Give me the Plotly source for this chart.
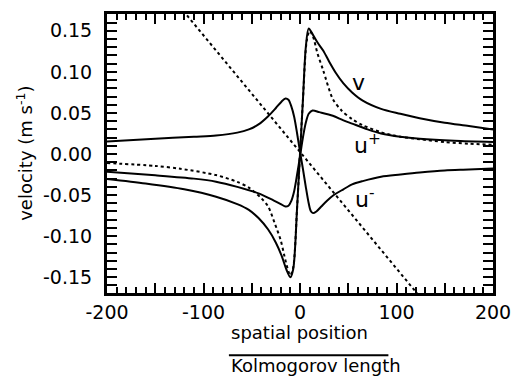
import plotly.graph_objects as go

# ---------------- data ----------------
# v, solid
x_v = [-200, -160, -120, -87, -65, -53, -43, -33, -25, -19, -14, -10, -7, -3, 0,
       3, 6, 9, 13, 18, 24, 30, 37, 45, 54, 65, 84, 104, 124, 150, 175, 200]
v_solid = [-0.0305, -0.036, -0.043, -0.052, -0.061, -0.068, -0.078, -0.092, -0.108, -0.124,
           -0.141, -0.150, -0.140, -0.065, 0.0, 0.065, 0.130, 0.153, 0.146, 0.136, 0.126,
           0.113, 0.099, 0.086, 0.075, 0.065, 0.055, 0.049, 0.0435, 0.038, 0.034, 0.0297]

# v, dashed model curve
x_vd = [-200, -150, -124, -87, -65, -53, -40, -33, -26, -20, -16, -12, -10, -7, -3, 0,
        3, 7, 10, 13.5, 18, 24, 34, 43, 54, 65, 84, 104, 124, 150, 175, 200]
v_dash = [-0.011, -0.0145, -0.018, -0.0257, -0.034, -0.041, -0.054, -0.064, -0.085, -0.105,
          -0.125, -0.143, -0.148, -0.138, -0.065, 0.0, 0.065, 0.138, 0.150, 0.143, 0.123,
          0.102, 0.067, 0.053, 0.0425, 0.035, 0.0265, 0.021, 0.018, 0.0145, 0.0125, 0.0112]

# u- (positive peak on the left, negative trough on the right)
x_um = [-200, -150, -110, -87, -65, -53, -43, -33, -25, -19, -15, -12, -9, -6, -3, 0,
        3, 6, 9, 11, 13.5, 17, 22, 28, 35, 45, 54, 65, 84, 104, 124, 150, 175, 200]
u_minus = [0.0153, 0.0185, 0.021, 0.0225, 0.026, 0.030, 0.036, 0.046, 0.056, 0.064, 0.0675,
           0.066, 0.058, 0.045, 0.025, 0.003, -0.018, -0.040, -0.060, -0.069, -0.072, -0.070,
           -0.064, -0.057, -0.050, -0.043, -0.037, -0.033, -0.0277, -0.025, -0.0225, -0.020,
           -0.019, -0.0177]

# u+ (negative trough on the left, positive peak on the right)
x_up = [-200, -150, -110, -87, -65, -43, -30, -20, -15, -12, -9, -6, -3, 0,
        3, 6, 9, 13, 20, 34, 45, 54, 70, 84, 104, 124, 160, 200]
u_plus = [-0.0217, -0.026, -0.030, -0.0337, -0.040, -0.048, -0.055, -0.061, -0.064, -0.063,
          -0.057, -0.045, -0.025, -0.003, 0.020, 0.038, 0.049, 0.053, 0.051, 0.0466, 0.041,
          0.037, 0.030, 0.025, 0.021, 0.0185, 0.016, 0.0145]

# straight dashed line (end points, clipped by the axes)
x_line = [-125, 125]
y_line = [0.180, -0.175]

# axis ticks
x_tick_vals = [-200, -100, 0, 100, 200]
x_tick_text = ["-200", "-100", "0", "100", "200"]
x_mid_ticks = [-150, -50, 50, 150]
y_tick_vals = [-0.15, -0.10, -0.05, 0.0, 0.05, 0.10, 0.15]
y_tick_text = ["-0.15", "-0.10", "-0.05", "0.00", "0.05", "0.10", "0.15"]

# curve labels
label_text = ["v", "u<sup>+</sup>", "u<sup>-</sup>"]
label_x = [61, 54, 55]
label_y = [0.087, 0.012, -0.053]

# ---------------- figure ----------------
FONT = "DejaVu Sans"
X_RANGE = [-200, 200]
fig = go.Figure()

curves = [
    (x_v, v_solid, "solid"),
    (x_vd, v_dash, "3px,3px"),
    (x_um, u_minus, "solid"),
    (x_up, u_plus, "solid"),
]
for xs, ys, dash in curves:
    fig.add_trace(go.Scatter(
        x=xs, y=ys, mode="lines",
        line=dict(color="black", width=2, shape="spline", smoothing=0.8, dash=dash),
        showlegend=False, hoverinfo="skip"))

fig.add_trace(go.Scatter(
    x=x_line, y=y_line, mode="lines",
    line=dict(color="black", width=2, dash="3px,3px"),
    showlegend=False, hoverinfo="skip"))

# invisible trace so that the overlay axis (long ticks at 50s) is drawn
fig.add_trace(go.Scatter(x=[None], y=[None], xaxis="x2", mode="lines",
                         showlegend=False, hoverinfo="skip"))

axis_common = dict(
    ticks="inside", tickwidth=2, tickcolor="black",
    showline=True, linewidth=3, linecolor="black", mirror="allticks",
    showgrid=False, zeroline=False,
    tickfont=dict(family=FONT, size=19, color="black"),
)

fig.update_layout(
    xaxis=dict(
        range=X_RANGE, tickmode="array", tickvals=x_tick_vals, ticktext=x_tick_text,
        ticklen=10, ticklabeloverflow="allow",
        minor=dict(dtick=10, tick0=0, ticklen=6, tickwidth=1.5, tickcolor="black",
                   ticks="inside", showgrid=False),
        **axis_common),
    xaxis2=dict(
        range=X_RANGE, overlaying="x", anchor="y", side="bottom",
        tickmode="array", tickvals=x_mid_ticks, ticks="inside", ticklen=10, tickwidth=2,
        tickcolor="black", showticklabels=False, showline=False, mirror="allticks",
        showgrid=False, zeroline=False),
    yaxis=dict(
        range=[-0.1693, 0.1705], tickmode="array", tickvals=y_tick_vals, ticktext=y_tick_text,
        ticklen=10, ticklabelstandoff=8,
        minor=dict(dtick=0.01, tick0=0, ticklen=6, tickwidth=1.5, tickcolor="black",
                   ticks="inside", showgrid=False),
        **axis_common),
)

for t, lx, ly in zip(label_text, label_x, label_y):
    fig.add_annotation(x=lx, y=ly, xref="x", yref="y", text=t, showarrow=False,
                       xanchor="left" if t != "v" else "center", yanchor="middle",
                       font=dict(family=FONT, size=22, color="black"))

# x-axis title as a fraction
fig.add_annotation(x=0.3158, y=-0.1418, xref="paper", yref="paper", text="spatial position",
                   showarrow=False, xanchor="left", yanchor="middle",
                   font=dict(family=FONT, size=18, color="black"))
fig.add_annotation(x=0.3158, y=-0.2589, xref="paper", yref="paper", text="Kolmogorov length",
                   showarrow=False, xanchor="left", yanchor="middle",
                   font=dict(family=FONT, size=18, color="black"))
fig.add_shape(type="line", xref="paper", yref="paper", x0=0.3158, x1=0.729,
              y0=-0.2234, y1=-0.2234, line=dict(color="black", width=2))

# y-axis title
fig.add_annotation(x=-0.2143, y=0.5, xref="paper", yref="paper",
                   text="velocity (m s<sup>-1</sup>)", textangle=-90, showarrow=False,
                   xanchor="center", yanchor="middle",
                   font=dict(family=FONT, size=18, color="black"))

fig.update_layout(
    width=522, height=380,
    margin=dict(l=107, r=16, t=11, b=87),
    paper_bgcolor="white", plot_bgcolor="white",
    showlegend=False,
)

# remove the default 8px page margin so the figure sits at the window's top-left corner
fig.write_html("out.html",
               config={"displayModeBar": False},
               post_script="document.body.style.margin='0px';document.body.style.padding='0px';")
